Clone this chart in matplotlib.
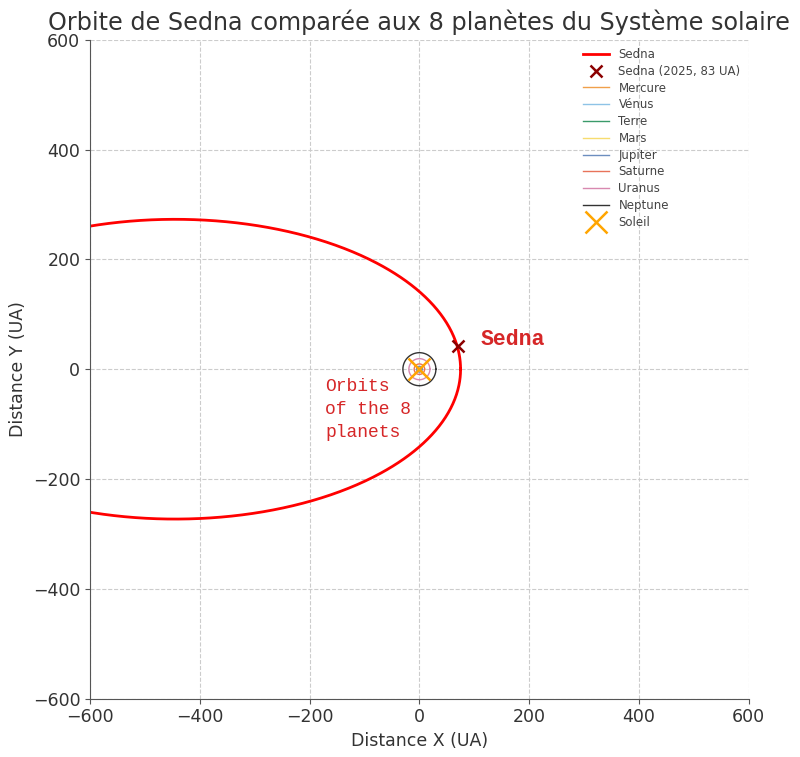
import numpy as np
import matplotlib.pyplot as plt

# orbite de Sedna (UA)
sedna_center_x = -445
sedna_a = 520
sedna_b = 273
sedna_2025_r = 83
sedna_2025_angle = 31  # degres

planetes = ["Mercure", "Vénus", "Terre", "Mars", "Jupiter", "Saturne", "Uranus", "Neptune"]
rayons = [0.39, 0.72, 1.0, 1.52, 5.2, 9.54, 19.2, 30.07]
couleurs = ["#f0a04b", "#8ec3e6", "#3a9a6a", "#f7dc6f", "#6c8ebf", "#e8735a", "#d889b0", "#333333"]

txt = "#333333"
plt.rcParams["font.family"] = "DejaVu Sans"

fig, ax = plt.subplots(figsize=(8, 7.57), dpi=100)
fig.subplots_adjust(left=0.1125, right=0.936, bottom=0.0766, top=0.948)

t = np.linspace(0, 2 * np.pi, 1000)
ax.plot(sedna_center_x + sedna_a * np.cos(t), sedna_b * np.sin(t), color="red", lw=2, label="Sedna")

ang = np.radians(sedna_2025_angle)
sx, sy = sedna_2025_r * np.cos(ang), sedna_2025_r * np.sin(ang)
ax.plot(sx, sy, "x", color="darkred", ms=9, mew=1.8, label="Sedna (2025, 83 UA)")

for nom, r, c in zip(planetes, rayons, couleurs):
    ax.plot(r * np.cos(t), r * np.sin(t), color=c, lw=1, label=nom)

ax.plot(0, 0, "x", color="orange", ms=16, mew=1.8, label="Soleil")

ax.text(sx + 40, sy + 12, "Sedna", color="#d62728", fontsize=15.5, fontweight="bold",
        family="Liberation Mono", va="center")
ax.text(-172, -16, "Orbits\nof the 8\nplanets", color="#d62728", fontsize=13,
        family="Liberation Mono", va="top", linespacing=1.45)

ax.set_xlim(-600, 600)
ax.set_ylim(-600, 600)
ax.set_aspect("equal")
ax.grid(True, ls="--", color="#cccccc", lw=0.8)
for s in ["top", "right"]:
    ax.spines[s].set_visible(False)
for s in ["left", "bottom"]:
    ax.spines[s].set_color("#555555")
ax.tick_params(colors="#555555", labelcolor=txt, labelsize=12.5)
ax.set_xticks(range(-600, 601, 200))
ax.set_yticks(range(-600, 601, 200))
ax.set_xlabel("Distance X (UA)", fontsize=12.5, color=txt)
ax.set_ylabel("Distance Y (UA)", fontsize=12.5, color=txt)
ax.set_title("Orbite de Sedna comparée aux 8 planètes du Système solaire", fontsize=17.2,
             color=txt, pad=7)

leg = ax.legend(loc="upper right", fontsize=8.5, frameon=False, labelcolor="#444444",
                labelspacing=0.32, handlelength=2.2, borderaxespad=0.3)

fig.savefig("out.png")
